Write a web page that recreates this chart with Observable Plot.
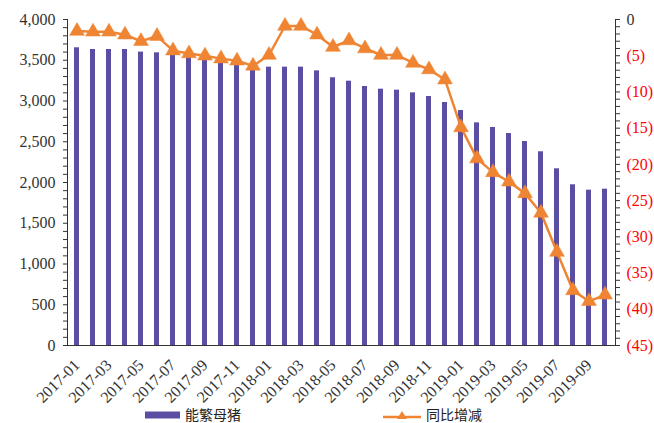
<!DOCTYPE html>
<html>
<head>
<meta charset="utf-8">
<script src="https://cdn.jsdelivr.net/npm/d3@7"></script>
<script src="https://cdn.jsdelivr.net/npm/@observablehq/plot@0.6"></script>
<style>
  html, body { margin: 0; padding: 0; background: #fff; overflow: hidden; }
  #chart { width: 654px; height: 423px; position: relative; overflow: hidden; }
  #chart svg { max-width: none; display: block; }
  #chart svg, #chart svg text { font-family: "Liberation Serif", "DejaVu Serif", serif !important; }
  #legend { position: absolute; left: 0; top: 406px; width: 654px; height: 17px; font-family: "Noto Sans CJK SC", sans-serif; font-size: 14px; line-height: 17px; color: #222; }
  .item { position: absolute; top: 0; display: flex; align-items: center; height: 17px; line-height: 17px; }
  .item svg { margin-right: 5px; }
</style>
</head>
<body>
<div id="chart"></div>
<script>
const months = ["2017-01","2017-02","2017-03","2017-04","2017-05","2017-06","2017-07","2017-08","2017-09","2017-10","2017-11","2017-12",
  "2018-01","2018-02","2018-03","2018-04","2018-05","2018-06","2018-07","2018-08","2018-09","2018-10","2018-11","2018-12",
  "2019-01","2019-02","2019-03","2019-04","2019-05","2019-06","2019-07","2019-08","2019-09","2019-10"];
const sows = [3653,3632,3632,3632,3600,3591,3570,3540,3510,3490,3460,3430,
  3415,3415,3415,3370,3285,3243,3178,3145,3133,3100,3055,2982,
  2883,2732,2675,2601,2503,2377,2168,1972,1906,1918];
const yoy = [-1.6,-1.7,-1.7,-2.1,-3.0,-2.3,-4.3,-4.7,-5.0,-5.4,-5.7,-6.4,
  -4.9,-0.9,-0.9,-2.1,-3.8,-2.9,-4.0,-4.9,-4.9,-6.0,-6.9,-8.3,
  -14.9,-19.2,-21.1,-22.4,-24.0,-26.7,-32.1,-37.4,-38.9,-38.0];
const xTicks = months.filter((d, i) => i % 2 === 0);
const leftTicks = d3.range(0, 4001, 100);
const rightMinor = d3.range(0, 46, 1);
const rightLabels = d3.range(0, 46, 5);
const seriesNames = ["能繁母猪", "同比增减"];

const barColor = "#5a4ea3";
const lineColor = "#ef8533";
const yMax = 4000, rMax = 45;
const toLeft = v => yMax + v * yMax / rMax; // v is negative pct

const data = months.map((m, i) => ({month: m, sows: sows[i], yoy: yoy[i]}));

const plot = Plot.plot({
  width: 654,
  height: 406,
  marginLeft: 67,
  marginRight: 39,
  marginTop: 19,
  marginBottom: 61,
  style: {fontFamily: "'Liberation Serif', serif", fontSize: "16px", color: "#333", background: "#fff"},
  x: {type: "band", domain: months, paddingInner: 0.68, paddingOuter: 0.34, align: 0.5, label: null},
  y: {domain: [0, yMax], label: null},
  marks: [
    Plot.barY(data, {x: "month", y: "sows", fill: barColor}),
    Plot.line(data, {x: "month", y: d => toLeft(d.yoy), stroke: lineColor, strokeWidth: 2.5}),
    Plot.dot(data, {x: "month", y: d => toLeft(d.yoy), symbol: "triangle", r: 5.5, fill: lineColor, stroke: lineColor, strokeWidth: 0.5}),
    Plot.axisY({ticks: leftTicks, tickSize: 4, tickPadding: 8, tickFormat: d => d % 500 === 0 ? d3.format(",")(d) : "", stroke: "#333", label: null, fontSize: 16}),
    Plot.axisY({anchor: "right", ticks: rightMinor.map(v => toLeft(-v)), tickSize: 4, tickFormat: () => "", stroke: "#333", label: null}),
    Plot.text(rightLabels.filter(v => v === 0), {y: v => toLeft(-v), frameAnchor: "right", dx: 11, textAnchor: "start", text: v => "0", fill: "#333", fontSize: 16}),
    Plot.text(rightLabels.filter(v => v !== 0), {y: v => toLeft(-v), frameAnchor: "right", dx: 11, textAnchor: "start", text: v => `(${v})`, fill: "#ff0000", fontSize: 16}),
    Plot.axisX({ticks: xTicks, tickSize: 0, tickRotate: -45, tickPadding: 17, fontSize: 16, label: null}),
    Plot.frame({anchor: "left", stroke: "#333"}),
    Plot.frame({anchor: "right", stroke: "#333"}),
    Plot.frame({anchor: "bottom", stroke: "#333"})
  ]
});
document.getElementById("chart").appendChild(plot);

const legend = document.createElement("div");
legend.id = "legend";
legend.innerHTML = `
  <div class="item" style="left:145px"><svg width="35" height="10"><rect x="0" y="1.5" width="35" height="7" fill="${barColor}"/></svg><span>${seriesNames[0]}</span></div>
  <div class="item" style="left:383px"><svg width="38" height="12"><line x1="0" y1="8" x2="38" y2="8" stroke="${lineColor}" stroke-width="2.5"/><path d="M19,2 L24,10 L14,10 Z" fill="${lineColor}"/></svg><span>${seriesNames[1]}</span></div>`;
document.getElementById("chart").appendChild(legend);
</script>
</body>
</html>
